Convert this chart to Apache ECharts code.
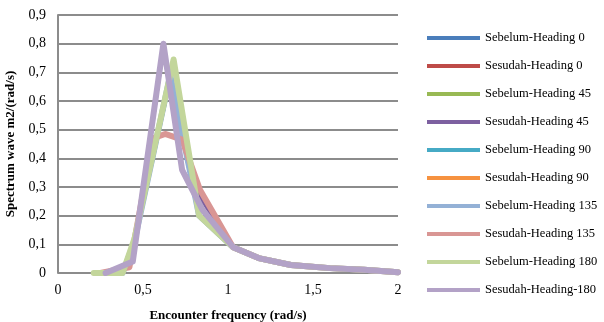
<!DOCTYPE html>
<html>
<head>
<meta charset="utf-8">
<script src="https://cdn.jsdelivr.net/npm/echarts@6/dist/echarts.min.js"></script>
<style>html,body{margin:0;padding:0;background:#fff}#c{width:604px;height:322px}</style>
</head>
<body>
<div id="c"></div>
<script>
// Series names
const seriesNames = ['Sebelum-Heading 0','Sesudah-Heading 0','Sebelum-Heading 45','Sesudah-Heading 45','Sebelum-Heading 90','Sesudah-Heading 90','Sebelum-Heading 135','Sesudah-Heading 135','Sebelum-Heading 180','Sesudah-Heading-180'];
// Encounter frequency (x) and spectrum (y) per series
const sebelum0_x  = [0.22,0.38,0.45,0.66,0.83,1.03,1.18,1.37,1.6,1.8,2.0];
const sebelum0_y  = [0,0,0.11,0.68,0.20,0.09,0.052,0.028,0.017,0.011,0.003];
const sesudah0_x  = [0.25,0.42,0.56,0.63,0.73,0.835,1.03,1.18,1.37,1.6,1.8,2.0];
const sesudah0_y  = [0,0.02,0.47,0.485,0.465,0.29,0.09,0.052,0.028,0.017,0.011,0.003];
const sebelum45_x = [0.21,0.38,0.45,0.68,0.83,1.03,1.18,1.37,1.6,1.8,2.0];
const sebelum45_y = [0,0,0.12,0.73,0.20,0.09,0.052,0.028,0.017,0.011,0.003];
const sesudah45_x = [0.28,0.44,0.62,0.73,1.03,1.18,1.37,1.6,1.8,2.0];
const sesudah45_y = [0,0.04,0.79,0.36,0.09,0.052,0.028,0.017,0.011,0.003];
const sebelum90_x = [0.22,0.38,0.45,0.66,0.83,1.03,1.18,1.37,1.6,1.8,2.0];
const sebelum90_y = [0,0,0.11,0.68,0.20,0.09,0.052,0.028,0.017,0.011,0.003];
const sesudah90_x = [0.25,0.42,0.56,0.63,0.73,0.835,1.03,1.18,1.37,1.6,1.8,2.0];
const sesudah90_y = [0,0.02,0.47,0.485,0.465,0.29,0.09,0.052,0.028,0.017,0.011,0.003];
const sebelum135_x = [0.22,0.38,0.45,0.66,0.83,1.03,1.18,1.37,1.6,1.8,2.0];
const sebelum135_y = [0,0,0.11,0.69,0.20,0.09,0.052,0.028,0.017,0.011,0.003];
const sesudah135_x = [0.25,0.42,0.56,0.63,0.73,0.835,1.03,1.18,1.37,1.6,1.8,2.0];
const sesudah135_y = [0,0.02,0.47,0.485,0.465,0.29,0.09,0.052,0.028,0.017,0.011,0.003];
const sebelum180_x = [0.21,0.38,0.45,0.68,0.83,1.03,1.18,1.37,1.6,1.8,2.0];
const sebelum180_y = [0,0,0.12,0.745,0.20,0.09,0.052,0.028,0.017,0.011,0.003];
const sesudah180_x = [0.28,0.44,0.62,0.73,0.85,1.03,1.18,1.37,1.6,1.8,2.0];
const sesudah180_y = [0,0.04,0.80,0.36,0.22,0.09,0.052,0.028,0.017,0.011,0.003];

const xs = [sebelum0_x,sesudah0_x,sebelum45_x,sesudah45_x,sebelum90_x,sesudah90_x,sebelum135_x,sesudah135_x,sebelum180_x,sesudah180_x];
const ys = [sebelum0_y,sesudah0_y,sebelum45_y,sesudah45_y,sebelum90_y,sesudah90_y,sebelum135_y,sesudah135_y,sebelum180_y,sesudah180_y];
const colors = ['#4a7ebb','#be4b48','#98b954','#7d60a0','#46aac5','#f69240','#94b1d6','#d99694','#c3d69b','#b3a2c7'];

const font = '"Liberation Serif","DejaVu Serif",serif';
const chart = echarts.init(document.getElementById('c'));
chart.setOption({
  animation:false,
  color: colors,
  grid:{left:58,right:206,top:15,bottom:49,outerBoundsMode:'none',containLabel:false},
  xAxis:{type:'value',min:0,max:2,interval:0.5,
    name:'Encounter frequency (rad/s)',nameLocation:'middle',nameGap:36,
    nameTextStyle:{fontFamily:font,fontSize:13,fontWeight:'bold',color:'#000'},
    axisLine:{show:false},axisTick:{show:false},splitLine:{show:false},
    axisLabel:{fontFamily:font,fontSize:14,color:'#000',margin:10,formatter:v=>String(v).replace('.',',')}},
  yAxis:{type:'value',min:0,max:0.9,interval:0.1,
    name:'Spectrum wave m2/(rad/s)',nameLocation:'middle',nameGap:41,
    nameTextStyle:{fontFamily:font,fontSize:13,fontWeight:'bold',color:'#000'},
    axisLine:{show:true,lineStyle:{color:'#8c8c8c',width:2}},axisTick:{show:false},
    splitLine:{show:true,lineStyle:{color:'#8c8c8c',width:2}},
    axisLabel:{fontFamily:font,fontSize:14,color:'#000',margin:12,formatter:v=>String(Math.round(v*10)/10).replace('.',',')}},
  legend:{orient:'vertical',left:427,top:31,padding:0,itemWidth:53,itemHeight:4,itemGap:14,icon:'rect',
    textStyle:{fontFamily:font,fontSize:12.5,color:'#000',lineHeight:14},
    data:seriesNames},
  series: seriesNames.map((n,i)=>({
    name:n,type:'line',showSymbol:false,symbol:'none',
    lineStyle:{width:i>=6?6:4,color:colors[i],join:'round',cap:'round'},
    itemStyle:{color:colors[i]},
    data: xs[i].map((x,j)=>[x,ys[i][j]])
  }))
});
</script>
</body>
</html>
